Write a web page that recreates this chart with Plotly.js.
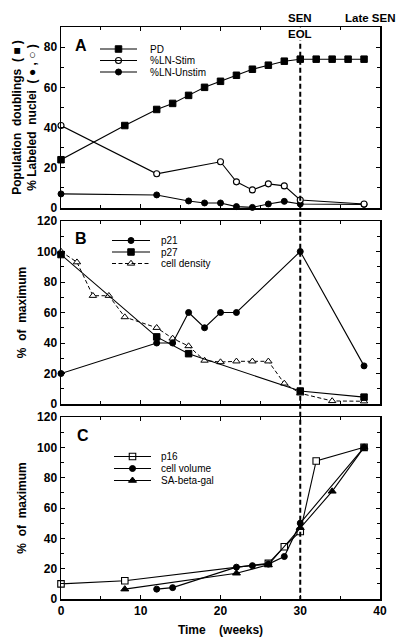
<!DOCTYPE html>
<html>
<head>
<meta charset="utf-8">
<script src="https://cdn.plot.ly/plotly-3.0.1.min.js"></script>
<style>
  html, body { margin: 0; padding: 0; background: #fff; }
  #chart { width: 400px; height: 640px; }
</style>
</head>
<body>
<div id="chart"></div>
<script>
// ---------- Data ----------
// Panel A
const weeksPD = [0, 8, 12, 14, 16, 18, 20, 22, 24, 26, 28, 30, 32, 34, 36, 38];
const popDoublings = [24, 41, 49, 52, 56, 60, 63, 66, 69, 71, 73, 74, 74, 74, 74, 74];
const weeksStim = [0, 12, 20, 22, 24, 26, 28, 30, 38];
const lnStim = [41, 17, 23, 13, 9, 12, 11, 4, 2];
const weeksUnstim = [0, 12, 16, 18, 20, 22, 24, 26, 28, 30, 38];
const lnUnstim = [7, 6.5, 3.5, 2.5, 2.5, 0.7, 0.3, 2, 3.3, 2, 1.8];

// Panel B
const weeksP21 = [0, 12, 14, 16, 18, 20, 22, 30, 38];
const p21 = [20, 40, 40, 60, 50, 60, 60, 100, 25];
const weeksP27 = [0, 12, 16, 30, 38];
const p27 = [98, 44, 33, 8.5, 4.5];
const weeksDensity = [0, 2, 4, 6, 8, 12, 14, 16, 18, 20, 22, 24, 26, 28, 30, 34, 38];
const cellDensity = [100, 93, 71, 71, 57, 50, 43, 38, 28.5, 27.5, 28, 28, 28, 13.5, 7, 2, 1.8];

// Panel C
const weeksP16 = [0, 8, 26, 28, 30, 32, 38];
const p16 = [10, 12, 23.5, 34.5, 44.5, 91, 100];
const weeksVol = [12, 14, 22, 24, 26, 28, 30, 38];
const cellVolume = [6.5, 7.5, 21, 22, 23, 28, 50, 100];
const weeksSA = [8, 22, 26, 30, 34, 38];
const saBetaGal = [6.5, 17, 22.5, 47, 71, 100];

// Event markers
const senWeek = 30;
const panelLabels = ["A", "B", "C"];
const xTickVals = [0, 10, 20, 30, 40];

// ---------- Styles ----------
const FONT = "Liberation Sans, Arial, Helvetica, sans-serif";
const BOLD = {family: FONT, size: 12, color: "#000", weight: "bold"};
const LINE = {color: "#000", width: 1.1};
const DLINE = {color: "#000", width: 1, dash: "4px,2.5px"};

const mk = {
  sqFill: {symbol: "square", size: 6.5, color: "#000", line: {color: "#000", width: 1}},
  sqOpen: {symbol: "square", size: 6.5, color: "#fff", line: {color: "#000", width: 1.1}},
  ciFill: {symbol: "circle", size: 6, color: "#000", line: {color: "#000", width: 1}},
  ciOpen: {symbol: "circle", size: 6, color: "#fff", line: {color: "#000", width: 1.1}},
  trFill: {symbol: "triangle-up", size: 7, color: "#000", line: {color: "#000", width: 1}},
  trOpen: {symbol: "triangle-up", size: 6.5, color: "#fff", line: {color: "#000", width: 1}}
};

function tr(name, x, y, xa, ya, marker, line) {
  return {type: "scatter", mode: "lines+markers", name: name, x: x, y: y,
          xaxis: xa, yaxis: ya, marker: marker, line: line || LINE,
          showlegend: false, hoverinfo: "x+y+name", cliponaxis: false};
}

const traces = [
  tr("%LN-Unstim", weeksUnstim, lnUnstim, "x", "y", mk.ciFill),
  tr("%LN-Stim", weeksStim, lnStim, "x", "y", mk.ciOpen),
  tr("PD", weeksPD, popDoublings, "x", "y", mk.sqFill),

  tr("cell density", weeksDensity, cellDensity, "x2", "y2", mk.trOpen, DLINE),
  tr("p27", weeksP27, p27, "x2", "y2", mk.sqFill),
  tr("p21", weeksP21, p21, "x2", "y2", mk.ciFill),

  tr("p16", weeksP16, p16, "x3", "y3", mk.sqOpen),
  tr("SA-beta-gal", weeksSA, saBetaGal, "x3", "y3", mk.trFill),
  tr("cell volume", weeksVol, cellVolume, "x3", "y3", mk.ciFill)
];

// ---------- Hand-made compact legends (page-pixel coordinates via axes x4/y4) ----------
const legendSpec = [
  {x0: 100, x1: 137, xt: 148, items: [
    {name: "PD", y: 49, marker: mk.sqFill, line: LINE},
    {name: "%LN-Stim", y: 60.5, marker: mk.ciOpen, line: LINE},
    {name: "%LN-Unstim", y: 72, marker: mk.ciFill, line: LINE}]},
  {x0: 112, x1: 150, xt: 159, items: [
    {name: "p21", y: 240.5, marker: mk.ciFill, line: LINE},
    {name: "p27", y: 252, marker: mk.sqFill, line: LINE},
    {name: "cell density", y: 263.5, marker: mk.trOpen, line: DLINE}]},
  {x0: 114, x1: 151, xt: 159, items: [
    {name: "p16", y: 456.5, marker: mk.sqOpen, line: LINE},
    {name: "cell volume", y: 468.5, marker: mk.ciFill, line: LINE},
    {name: "SA-beta-gal", y: 480.5, marker: mk.trFill, line: LINE}]}
];

const shapes = [];
const annotations = [];
legendSpec.forEach(g => {
  g.items.forEach(it => {
    shapes.push({type: "line", xref: "x4", yref: "y4", x0: g.x0, x1: g.x1, y0: it.y, y1: it.y,
                 line: it.line, layer: "above"});
    traces.push({type: "scatter", mode: "markers", x: [(g.x0 + g.x1) / 2], y: [it.y],
                 xaxis: "x4", yaxis: "y4", marker: it.marker, showlegend: false, hoverinfo: "skip"});
    annotations.push({xref: "x4", yref: "y4", x: g.xt, y: it.y, text: it.name, showarrow: false,
                      xanchor: "left", yanchor: "middle",
                      font: {family: FONT, size: 10, color: "#000"}});
  });
});

// Vertical dashed senescence line across all panels
shapes.push({type: "line", xref: "x3", yref: "paper", x0: senWeek, x1: senWeek, y0: -0.003, y1: 1,
             line: {color: "#000", width: 2, dash: "5px,3px"}, layer: "above"});

// Panel letters
const letterPos = [{x: 81, y: 45.5}, {x: 81, y: 238}, {x: 83, y: 435}];
panelLabels.forEach((t, i) => {
  annotations.push({xref: "x4", yref: "y4", x: letterPos[i].x, y: letterPos[i].y, text: t,
                    showarrow: false, xanchor: "center", yanchor: "middle",
                    font: {family: FONT, size: 16, color: "#000", weight: "bold"}});
});

// SEN / EOL / Late SEN labels
const lblFont = {family: FONT, size: 11.5, color: "#000", weight: "bold"};
annotations.push({xref: "x", yref: "paper", x: senWeek, y: 1, yshift: 9, text: "SEN",
                  showarrow: false, xanchor: "center", yanchor: "middle", font: lblFont});
annotations.push({xref: "x", yref: "y", x: senWeek, y: 86.5, text: "EOL", showarrow: false,
                  xanchor: "center", yanchor: "middle", font: lblFont, bgcolor: "#fff", borderpad: 0});
annotations.push({xref: "x", yref: "paper", x: 38.8, y: 1, yshift: 9, text: "Late SEN",
                  showarrow: false, xanchor: "center", yanchor: "middle", font: lblFont});

// ---------- Axes ----------
const H = 572; // plot height in px (27..599)
const dom = {
  A: [(599 - 208) / H, 1],
  B: [(599 - 404) / H, (599 - 221) / H],
  C: [0, (599 - 417) / H]
};

function xAxis(anchor, labels, extra) {
  return Object.assign({
    anchor: anchor, domain: [0, 1], range: [0, 40], autorange: false,
    showline: true, linecolor: "#000", linewidth: 1.5, mirror: "ticks",
    ticks: "inside", ticklen: 4, tickwidth: 1, tickcolor: "#000",
    tickmode: "array", tickvals: xTickVals, showticklabels: labels,
    minor: {dtick: 5, tick0: 0, ticks: "inside", ticklen: 3, tickwidth: 1, tickcolor: "#000"},
    showgrid: false, zeroline: false, tickfont: BOLD, fixedrange: true
  }, extra || {});
}
function yAxis(anchor, domain, range, dtick, title, standoff) {
  return {
    anchor: anchor, domain: domain, range: range, autorange: false,
    showline: true, linecolor: "#000", linewidth: 1.5, mirror: "ticks",
    ticks: "inside", ticklen: 4, tickwidth: 1, tickcolor: "#000",
    dtick: dtick, tick0: 0,
    minor: {dtick: 10, tick0: 0, ticks: "inside", ticklen: 3, tickwidth: 1, tickcolor: "#000"},
    showgrid: false, zeroline: false, tickfont: BOLD, fixedrange: true,
    title: {text: title, font: BOLD, standoff: standoff}
  };
}

const layout = {
  width: 400, height: 640,
  margin: {l: 61, r: 20, t: 27, b: 41, pad: 0},
  paper_bgcolor: "#fff", plot_bgcolor: "rgba(0,0,0,0)",
  showlegend: false,
  font: {family: FONT, color: "#000"},
  xaxis: xAxis("y", false),
  xaxis2: xAxis("y2", false),
  xaxis3: xAxis("y3", true, {title: {text: "Time\u00a0\u00a0\u00a0\u00a0(weeks)", font: BOLD, standoff: 8}}),
  yaxis: yAxis("x", dom.A, [0, 90], 20,
               "Population\u00a0\u00a0doublings\u00a0\u00a0(\u00a0\u25A0\u00a0)<br>%\u00a0Labeled\u00a0\u00a0nuclei\u00a0\u00a0(\u00a0\u25CF\u00a0,\u00a0\u25CB\u00a0)", 4),
  yaxis2: yAxis("x2", dom.B, [0, 120], 20, "%\u00a0\u00a0of\u00a0\u00a0maximum", 8),
  yaxis3: yAxis("x3", dom.C, [0, 120], 20, "%\u00a0\u00a0of\u00a0\u00a0maximum", 8),
  // invisible page-pixel axes for legends & labels
  xaxis4: {anchor: "y4", domain: [0, 1], range: [61, 380], autorange: false, visible: false, fixedrange: true},
  yaxis4: {anchor: "x4", domain: [0, 1], range: [599, 27], autorange: false, visible: false, fixedrange: true},
  shapes: shapes,
  annotations: annotations
};

Plotly.newPlot("chart", traces, layout, {displayModeBar: false, staticPlot: true});
</script>
</body>
</html>
